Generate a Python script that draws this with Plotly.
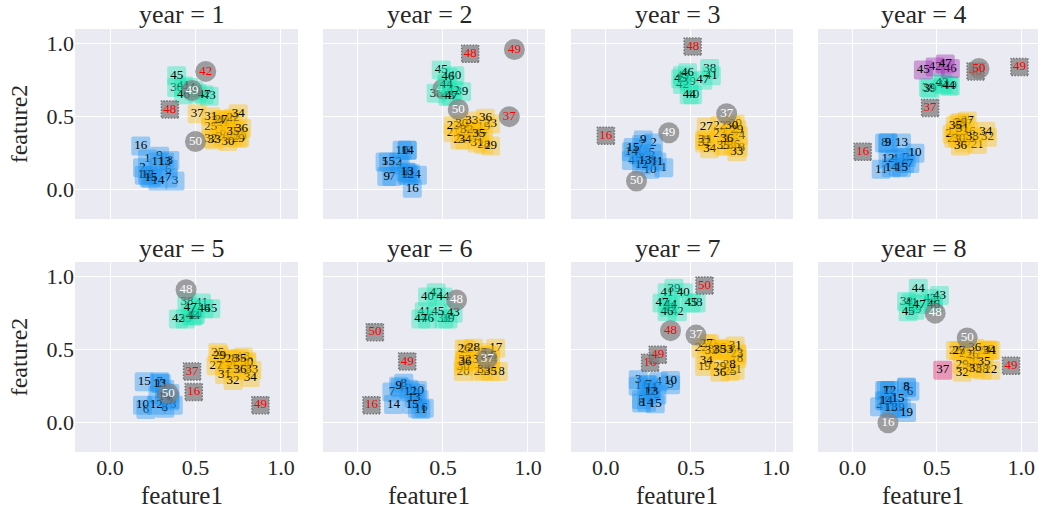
import plotly.graph_objects as go

YEARS = [1, 2, 3, 4, 5, 6, 7, 8]
IDS = list(range(1, 51))

P1_X = [.22,.19,.38,.23,.25,.34,.34,.35,.29,.20,.28,.22,.32,.28,.24,.18,.68,.64,.76,.70,.66,.72,.74,.63,.59,.66,.65,.72,.75,.69,.59,.59,.61,.75,.72,.77,.51,.39,.51,.49,.43,.56,.58,.46,.39,.43,.55,.35,.48,.50]
P1_Y = [.21,.15,.06,.08,.10,.14,.08,.20,.23,.10,.19,.10,.19,.06,.08,.30,.48,.40,.36,.47,.46,.49,.40,.47,.43,.36,.48,.36,.35,.33,.50,.35,.34,.52,.40,.42,.52,.70,.66,.68,.71,.81,.64,.70,.78,.65,.65,.55,.68,.33]
P2_X = [.25,.24,.31,.35,.16,.29,.20,.28,.17,.26,.30,.29,.29,.29,.18,.32,.66,.70,.74,.64,.56,.56,.78,.60,.62,.68,.72,.74,.78,.61,.70,.64,.67,.63,.71,.75,.89,.46,.61,.57,.50,.56,.53,.52,.49,.53,.55,.66,.92,.59]
P2_Y = [.17,.19,.11,.10,.19,.27,.09,.12,.09,.27,.10,.10,.12,.27,.19,.01,.43,.40,.43,.39,.39,.44,.45,.34,.40,.38,.36,.31,.30,.45,.32,.41,.47,.34,.38,.49,.50,.66,.67,.78,.69,.68,.64,.72,.82,.77,.64,.93,.96,.55]
P3_X = [.34,.28,.21,.15,.27,.19,.21,.28,.22,.26,.30,.21,.23,.15,.16,.00,.74,.78,.73,.76,.59,.67,.67,.78,.72,.75,.59,.71,.77,.74,.58,.58,.77,.61,.69,.71,.71,.61,.49,.51,.62,.45,.45,.49,.44,.48,.57,.51,.37,.18]
P3_Y = [.15,.32,.22,.20,.25,.24,.31,.20,.34,.14,.19,.17,.20,.26,.29,.37,.38,.29,.40,.45,.34,.44,.38,.37,.35,.31,.43,.30,.41,.44,.34,.32,.26,.28,.30,.35,.52,.83,.74,.65,.78,.72,.78,.65,.76,.80,.75,.98,.39,.06]
P4_X = [.30,.32,.21,.25,.27,.31,.34,.19,.21,.37,.17,.21,.29,.23,.29,.06,.67,.62,.61,.66,.74,.60,.69,.59,.64,.69,.68,.63,.64,.63,.65,.80,.71,.79,.61,.64,.46,.45,.46,.58,.54,.49,.53,.57,.42,.58,.55,.73,.99,.75]
P4_Y = [.22,.22,.32,.21,.155,.18,.18,.32,.32,.25,.14,.21,.32,.15,.15,.26,.45,.36,.40,.32,.31,.35,.35,.38,.40,.40,.47,.45,.46,.35,.42,.36,.36,.40,.44,.30,.56,.70,.69,.71,.72,.84,.73,.71,.82,.83,.86,.81,.84,.83]
P5_X = [.28,.35,.37,.32,.35,.21,.29,.32,.35,.19,.30,.27,.29,.32,.20,.49,.69,.78,.74,.80,.67,.67,.71,.78,.63,.72,.62,.71,.64,.80,.67,.72,.83,.82,.76,.76,.48,.45,.44,.50,.535,.40,.48,.49,.59,.55,.47,.445,.88,.34]
P5_Y = [.19,.20,.12,.23,.16,.09,.28,.10,.15,.12,.27,.12,.27,.18,.28,.21,.43,.45,.43,.42,.39,.43,.36,.36,.48,.39,.39,.44,.46,.41,.33,.29,.36,.31,.44,.36,.35,.83,.71,.74,.82,.71,.73,.73,.78,.78,.79,.91,.12,.20]
P6_X = [.35,.34,.30,.25,.36,.39,.20,.27,.24,.35,.37,.31,.33,.21,.32,.08,.81,.825,.76,.62,.63,.72,.64,.78,.78,.625,.72,.68,.74,.62,.71,.63,.74,.76,.78,.63,.76,.505,.53,.41,.39,.46,.56,.50,.47,.41,.37,.58,.29,.10]
P6_Y = [.10,.20,.23,.24,.16,.10,.21,.27,.25,.22,.09,.21,.17,.125,.125,.12,.51,.35,.39,.35,.42,.35,.50,.43,.46,.505,.48,.51,.40,.385,.43,.43,.36,.46,.35,.415,.44,.71,.71,.86,.76,.89,.75,.86,.76,.71,.71,.84,.42,.62]
P7_X = [.19,.30,.19,.31,.21,.24,.25,.21,.38,.38,.27,.26,.27,.24,.29,.26,.77,.77,.58,.61,.76,.56,.77,.705,.73,.67,.59,.725,.67,.64,.76,.62,.71,.59,.67,.67,.53,.53,.40,.455,.36,.42,.37,.38,.50,.36,.33,.38,.305,.58]
P7_Y = [.25,.19,.295,.28,.16,.26,.26,.135,.26,.29,.24,.215,.215,.14,.13,.41,.465,.44,.385,.54,.36,.51,.475,.50,.35,.51,.54,.40,.385,.50,.525,.495,.50,.425,.50,.345,.60,.82,.92,.89,.89,.76,.79,.805,.82,.76,.82,.63,.465,.94]
P8_X = [.19,.22,.27,.16,.32,.34,.20,.32,.29,.19,.22,.22,.23,.20,.27,.21,.80,.69,.32,.61,.64,.82,.67,.78,.73,.71,.63,.77,.65,.71,.82,.65,.73,.81,.78,.725,.535,.32,.37,.48,.35,.46,.515,.39,.33,.48,.395,.49,.94,.68]
P8_Y = [.22,.22,.10,.11,.24,.215,.22,.245,.10,.15,.10,.22,.10,.15,.165,.00,.50,.42,.07,.495,.49,.36,.475,.49,.41,.465,.495,.36,.40,.375,.495,.345,.37,.495,.42,.51,.36,.83,.77,.82,.82,.85,.87,.92,.76,.81,.81,.75,.39,.58]

ALL_X = [P1_X, P2_X, P3_X, P4_X, P5_X, P6_X, P7_X, P8_X]
ALL_Y = [P1_Y, P2_Y, P3_Y, P4_Y, P5_Y, P6_Y, P7_Y, P8_Y]

CIRCLE_WHITE = [[49,50],[41,50],[37,49,50],[],[48,50],[37,48],[37],[16,48,50]]
CIRCLE_RED = [[42],[37,49],[],[50],[],[],[48],[]]
STAMP = [[48],[48],[16,48],[16,37,48,49],[16,37,49],[16,49,50],[16,49,50],[49]]
PURPLE = [[],[],[],[42,45,46,47],[],[],[],[]]
PINK = [[],[],[],[],[],[],[],[37]]
EXTRA_BLUE = [[],[],[],[],[],[],[],[19]]

BLUE_C, YELLOW_C, GREEN_C = "#2196f3", "#ffc107", "#1de9b6"
PURPLE_C, PINK_C, GRAY_C = "#9c27b0", "#e91e63", "#808080"
STAMP_EDGE = "#4d4d4d"
BG = "#eaeaf2"
SERIF = "Liberation Serif"

COLS = [(75, 298), (323, 545), (571, 793), (818, 1038)]
ROWS = [(29, 219), (262, 452)]
W, H = 1038, 509
TEXT_SHIFT = 5

fig = go.Figure()
layout = dict(
    width=W, height=H, margin=dict(l=0, r=0, t=0, b=0, pad=0), autosize=False,
    paper_bgcolor="white", plot_bgcolor=BG, showlegend=False, hovermode="closest",
    font=dict(family=SERIF, color="#262626"),
)
annotations = []

for i, year in enumerate(YEARS):
    r, c = i // 4, i % 4
    suf = "" if i == 0 else str(i + 1)
    x0, x1 = COLS[c]
    y0, y1 = ROWS[r]
    layout["xaxis" + suf] = dict(
        domain=[x0 / W, x1 / W], range=[-0.205, 1.1], anchor="y" + suf,
        tickvals=[0, 0.5, 1], ticktext=["0.0", "0.5", "1.0"], showticklabels=r == 1,
        gridcolor="white", gridwidth=1.2, zeroline=False, showline=False, ticks="",
        tickfont=dict(size=22, family=SERIF, color="#262626"),
    )
    layout["yaxis" + suf] = dict(
        domain=[1 - y1 / H, 1 - y0 / H], range=[-0.2, 1.1], anchor="x" + suf,
        tickvals=[0, 0.5, 1], ticktext=["0.0", "0.5", "1.0"], showticklabels=c == 0,
        gridcolor="white", gridwidth=1.2, zeroline=False, showline=False, ticks="",
        tickfont=dict(size=22, family=SERIF, color="#262626"),
        title=dict(text="feature2" if c == 0 else "", font=dict(size=24, family=SERIF, color="#262626"), standoff=12),
    )
    cx = ((x0 + x1) / 2 - TEXT_SHIFT) / W
    annotations.append(dict(
        text="year = %d" % year, xref="paper", yref="paper", showarrow=False,
        x=cx, y=1 - (y0 - 14) / H, xanchor="center", yanchor="middle",
        font=dict(size=26, family=SERIF, color="#262626"),
    ))
    if r == 1:
        annotations.append(dict(
            text="feature1", xref="paper", yref="paper", showarrow=False,
            x=cx, y=1 - 495 / H, xanchor="center", yanchor="middle",
            font=dict(size=25, family=SERIF, color="#262626"),
        ))
    for pid, px, py in zip(IDS, ALL_X[i], ALL_Y[i]):
        symbol, size, lw, opacity, text_color = "square", 15, 4, 0.4, "black"
        line_color = None
        if pid in CIRCLE_WHITE[i] or pid in CIRCLE_RED[i]:
            color = GRAY_C
            symbol, size, lw, opacity = "circle", 21, 0, 0.72
            text_color = "white" if pid in CIRCLE_WHITE[i] else "red"
        elif pid in STAMP[i]:
            color = GRAY_C
            size, lw, opacity = 17, 1.5, 0.75
            line_color = STAMP_EDGE
            text_color = "red"
        elif pid in PURPLE[i]:
            color = PURPLE_C
        elif pid in PINK[i]:
            color = PINK_C
        elif pid <= 16 or pid in EXTRA_BLUE[i]:
            color = BLUE_C
        elif pid <= 37:
            color = YELLOW_C
        else:
            color = GREEN_C
        fig.add_trace(go.Scatter(
            x=[px], y=[py], mode="markers+text", text=[str(pid)],
            textposition="middle center",
            textfont=dict(size=13, family=SERIF, color=text_color),
            marker=dict(symbol=symbol, size=size, color=color, opacity=opacity,
                        line=dict(width=lw, color=line_color or color)),
            xaxis="x" + suf, yaxis="y" + suf, name=str(pid), hoverinfo="text",
        ))

layout["annotations"] = annotations
fig.update_layout(**layout)

POST = """
var s = document.createElement('style');
s.textContent = 'body{margin:0;overflow:hidden} .scatterlayer .point{stroke-linejoin:round}';
document.head.appendChild(s);
document.querySelectorAll('.scatterlayer .point').forEach(function(p){
  if (p.style.stroke === 'rgb(77, 77, 77)') { p.style.strokeDasharray = '1.5 1.5'; }
});
"""
fig.write_html("out.html", post_script=POST, config={"displayModeBar": False})
